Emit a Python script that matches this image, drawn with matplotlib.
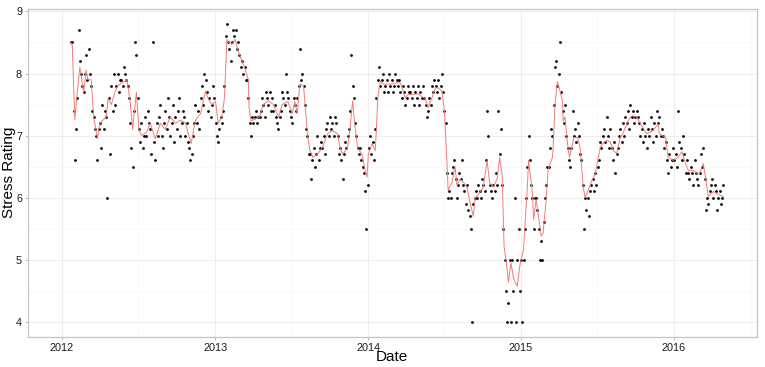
import numpy as np
import pandas as pd
import matplotlib
matplotlib.use("Agg")
import matplotlib.pyplot as plt
import matplotlib.dates as mdates

plt.rcParams['font.family'] = ['Liberation Sans', 'DejaVu Sans']

# one reading every 3 days, starting here (ratings in tenths)
start = "2012-01-23"
step_days = 3

rating_2012 = [85, 85, 74, 66, 71, 76, 87, 82, 80, 78,
               77, 80, 83, 79, 84, 80, 78, 74, 73, 71,
               70, 66, 71, 72, 68, 75, 71, 74, 73, 60,
               76, 67, 78, 74, 80, 75, 78, 80, 77, 79,
               79, 78, 81, 80, 79, 78, 76, 72, 68, 65,
               74, 85, 83, 76, 71, 69, 72, 68, 70, 73,
               70, 74, 72, 71, 67, 85, 69, 66, 72, 70,
               73, 75, 70, 68, 72, 74, 71, 76, 73, 70,
               72, 75, 69, 73, 71, 74, 76, 70, 72, 74,
               73, 70, 72, 69, 68, 66, 67, 70, 72, 75,
               72, 74, 71, 76, 78, 75, 80, 79, 77, 74,
               76, 73, 75, 78, 76]
rating_2013 = [72, 70, 69, 71, 73,
               72, 74, 78, 86, 88, 85, 84, 82, 85, 87,
               86, 87, 84, 85, 83, 81, 82, 80, 81, 79,
               79, 76, 72, 70, 73, 72, 73, 74, 72, 73,
               73, 74, 76, 75, 73, 77, 76, 75, 77, 74,
               76, 74, 75, 73, 72, 71, 73, 74, 77, 76,
               75, 80, 77, 76, 74, 73, 72, 76, 75, 74,
               76, 78, 84, 79, 80, 78, 75, 71, 70, 67,
               67, 63, 66, 68, 65, 67, 70, 66, 68, 69,
               68, 70, 67, 71, 72, 70, 73, 71, 72, 70,
               73, 72, 70, 67, 68, 66, 63, 67, 69, 68,
               70, 71, 74, 83, 78, 76, 72, 70, 68, 67,
               68, 66, 65, 64, 61, 55, 62]
rating_2014 = [68, 70, 67,
               69, 66, 71, 76, 79, 81, 78, 79, 80, 77,
               78, 79, 77, 80, 78, 79, 77, 78, 80, 79,
               78, 79, 77, 76, 78, 77, 75, 76, 78, 77,
               77, 76, 78, 75, 77, 76, 78, 75, 77, 76,
               78, 76, 75, 73, 74, 76, 75, 78, 77, 79,
               78, 77, 79, 76, 78, 80, 77, 74, 72, 64,
               60, 61, 60, 64, 65, 66, 63, 60, 62, 64,
               63, 66, 62, 61, 59, 62, 58, 57, 55, 40,
               59, 60, 61, 60, 62, 61, 60, 63, 62, 61,
               66, 74, 70, 62, 61, 60, 62, 61, 64, 62,
               74, 67, 71, 62, 55, 50, 45, 40, 43, 50,
               40, 50, 45, 60, 40, 50, 55, 45]
rating_2015 = [50, 40,
               50, 55, 60, 65, 70, 66, 62, 60, 55, 60,
               60, 58, 55, 50, 53, 50, 56, 60, 62, 65,
               65, 68, 71, 70, 75, 81, 82, 78, 80, 85,
               77, 74, 72, 75, 70, 68, 66, 65, 68, 74,
               70, 71, 69, 72, 70, 67, 66, 62, 55, 60,
               58, 60, 57, 61, 62, 63, 61, 64, 62, 65,
               66, 69, 68, 70, 71, 69, 73, 70, 68, 71,
               68, 66, 69, 64, 67, 68, 70, 71, 69, 72,
               70, 73, 72, 74, 71, 75, 73, 74, 72, 73,
               74, 73, 72, 70, 71, 69, 72, 70, 68, 71,
               70, 73, 71, 69, 72, 70, 74, 72, 73, 70,
               71, 70, 68, 69, 66, 64, 67, 65, 66, 68]
rating_2016 = [66, 67, 65, 74, 69, 68, 66, 70, 67, 64,
               66, 64, 63, 65, 64, 62, 66, 64, 63, 62,
               64, 67, 65, 68, 63, 58, 60, 59, 61, 62,
               63, 60, 62, 61, 58, 60, 61, 59, 60, 62]

# smoothed curve: (reading index, rating)
trend_pts = [(0, 8.5), (1, 8.45), (3, 7.25), (5, 7.7), (7, 8.1), (10, 7.7),
             (12, 8.05), (13.5, 7.9), (16, 7.9), (18, 7.3), (21, 6.95), (23, 7.2),
             (25.5, 7.25), (28, 7.3), (29.5, 7.6), (32, 7.5), (35, 7.7), (37, 7.8),
             (40.5, 7.85), (44.5, 7.9), (47, 7.55), (49, 7.1), (52, 7.7), (54, 7.1),
             (56, 7.0), (60, 7.05), (63, 7.2), (67, 6.95), (71, 7.2), (75, 7.1),
             (79, 7.3), (83, 7.2), (87, 7.25), (91, 7.2), (95.5, 6.87), (99, 7.25),
             (103, 7.35), (107, 7.72), (109, 7.6), (112, 7.5), (115, 7.55), (117, 7.2),
             (120, 7.3), (122, 7.6), (124, 8.55), (125, 8.5), (128, 8.47), (130.5, 8.55),
             (133, 8.36), (136, 8.2), (138, 8.1), (141, 7.9), (141.6, 7.46), (143, 7.24),
             (146, 7.26), (150, 7.3), (153, 7.5), (157, 7.56), (161, 7.5), (165, 7.3),
             (168, 7.5), (172.5, 7.55), (176, 7.35), (178, 7.55), (180, 7.35), (182, 7.83),
             (185, 7.8), (188, 7.03), (190, 6.76), (192.5, 6.65), (196, 6.7), (200, 6.81),
             (204, 7.03), (208, 7.08), (212, 7.03), (214, 6.81), (216, 6.7), (220, 6.8),
             (222, 7.13), (224, 7.56), (224.5, 7.45), (226, 7.13), (228, 6.8), (231.5, 6.7),
             (234, 6.44), (235.5, 6.33), (236.5, 6.7), (239.5, 6.87), (242, 6.76), (243, 7.13),
             (244, 7.61), (246, 7.88), (248, 7.83), (254, 7.83), (259, 7.85), (262, 7.85),
             (266, 7.6), (268, 7.66), (276, 7.67), (282, 7.59), (284, 7.45), (287, 7.6),
             (290, 7.77), (292, 7.77), (295, 7.72), (297, 7.4), (299, 6.6), (300, 6.12),
             (303, 6.24), (305.5, 6.5), (307, 6.2), (309.5, 6.3), (312, 6.25), (315, 6.17),
             (317, 5.96), (320, 5.7), (321.5, 6.0), (324, 6.05), (328, 6.17), (331, 6.6),
             (333, 6.24), (336, 6.17), (339, 6.3), (341, 6.65), (343, 6.35), (344.5, 5.21),
             (346, 5.0), (348, 4.64), (350, 4.95), (352, 4.7), (355, 4.57), (357, 4.9),
             (360, 5.17), (363, 6.17), (364, 6.6), (367, 6.08), (368, 5.65), (370, 5.97),
             (371.5, 5.76), (374, 5.38), (375.5, 5.42), (378, 5.97), (379.5, 6.45), (383, 6.65),
             (383.5, 6.8), (385, 7.5), (387, 7.87), (388.5, 7.76), (391, 7.55), (391.5, 7.24),
             (393, 7.3), (395, 6.87), (396.5, 6.65), (399, 6.87), (400, 6.97), (403, 6.97),
             (405, 6.8), (407.5, 6.17), (409, 6.0), (411, 6.1), (414.5, 6.28), (417, 6.38),
             (421, 6.81), (423, 6.87), (426, 6.92), (429, 6.9), (431, 6.77), (434, 6.71),
             (437, 6.97), (439, 7.03), (442, 7.19), (445, 7.3), (447, 7.32), (450, 7.3),
             (453, 7.19), (458, 7.03), (463, 7.08), (467, 7.19), (468, 7.03), (473, 6.97),
             (475, 6.65), (479, 6.6), (483, 6.65), (486, 6.74), (488, 6.6), (491, 6.44),
             (495, 6.44), (498, 6.39), (500, 6.39), (503, 6.55), (505, 6.28), (507, 6.02),
             (511, 6.1), (515, 6.05), (519, 6.02)]

ratings = np.array(rating_2012 + rating_2013 + rating_2014 + rating_2015 + rating_2016) / 10.0
dates = pd.date_range(start, periods=len(ratings), freq=f"{step_days}D")

t_idx, t_val = zip(*trend_pts)
t_dates = pd.Timestamp(start) + pd.to_timedelta(np.array(t_idx) * step_days, unit="D")

fig = plt.figure(figsize=(7.65, 3.67), dpi=100)
ax = fig.add_axes([0.037, 0.0826, 0.953, 0.893])

ax.scatter(dates, ratings, s=4, c="black", linewidths=0, zorder=3)
ax.plot(t_dates, t_val, color="#F47C74", lw=0.7, zorder=4)

ax.xaxis.set_major_locator(mdates.YearLocator())
ax.xaxis.set_major_formatter(mdates.DateFormatter("%Y"))
ax.xaxis.set_minor_locator(mdates.MonthLocator(bymonth=7, bymonthday=2))
ax.set_yticks(np.arange(4, 10, 1))
ax.set_yticks(np.arange(3.5, 9.5, 1), minor=True)

# limits after the ticks, otherwise set_yticks widens them
ax.set_xlim(pd.Timestamp("2011-10-13"), pd.Timestamp("2016-07-18"))
ax.set_ylim(3.76, 9.04)

ax.grid(which="major", color="#EBEBEB", lw=0.6)
ax.grid(which="minor", color="#F5F5F5", lw=0.4)
ax.set_axisbelow(True)

for s in ax.spines.values():
    s.set_color("#C4C4C4")
    s.set_linewidth(0.9)

ax.tick_params(which="major", length=2.5, width=0.6, color="#B0B0B0",
               labelcolor="#1a1a1a", labelsize=7.8, pad=2)
ax.tick_params(which="minor", length=0)

fig.text(392 / 765, 1 - 357 / 367, "Date", fontsize=11, ha="center", va="center")
fig.text(9.5 / 765, 1 - 172 / 367, "Stress Rating", fontsize=11, rotation=90,
         ha="center", va="center")

fig.savefig("out.png", dpi=100)
